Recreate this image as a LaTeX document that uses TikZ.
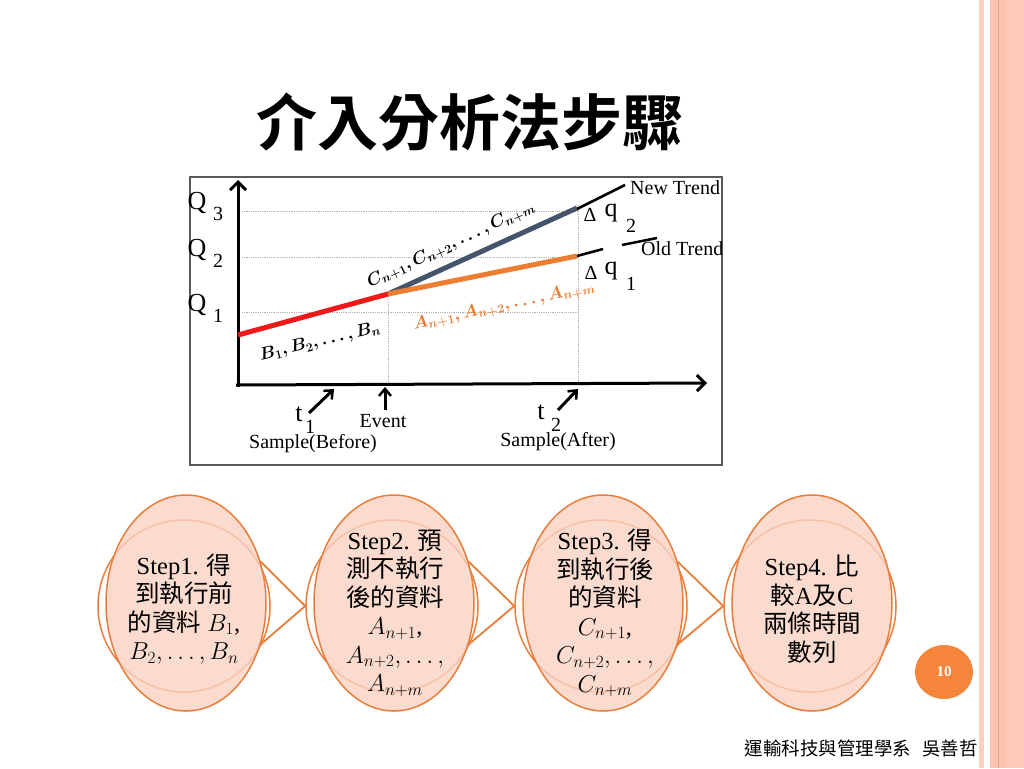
\RequirePackage{fix-cm}
\documentclass[tikz,border=0pt]{standalone}
\usepackage{fontspec}
\setmainfont{Liberation Serif}
\newfontfamily\cjk{Noto Sans CJK TC}[BoldFont={Noto Sans CJK TC Bold}]
\usepackage{tikz}
\usetikzlibrary{arrows.meta,shapes.geometric,backgrounds}
\definecolor{ptorange}{HTML}{E97E3C}
\definecolor{stepfill}{HTML}{F9D2C2}
\definecolor{slate}{HTML}{44546A}
\definecolor{trendorange}{HTML}{ED7D31}
\definecolor{trendred}{HTML}{F01818}
\definecolor{pnum}{HTML}{F4853A}
\definecolor{stripe}{HTML}{FCC4AE}
\definecolor{stripelight}{HTML}{FBD0C2}
\definecolor{stripeline}{HTML}{E9A48C}
\definecolor{stripetwo}{HTML}{FDCBB8}

\begin{document}
\begin{tikzpicture}[x=1pt,y=-1pt,
	stepbox/.style={ellipse,draw=ptorange,line width=1.5pt,fill=stepfill,fill opacity=0.8,minimum width=160pt,minimum height=216pt,inner sep=0pt},
	stepring/.style={circle,draw=ptorange,line width=1.5pt,fill=white,minimum size=172pt,inner sep=0pt},
	steptext/.style={align=center,inner sep=0pt,font=\fontsize{24.5}{28.5}\selectfont},
	flowline/.style={draw=ptorange,line width=1.8pt},
	axisline/.style={line width=3pt,-{Straight Barb[length=8pt,width=16pt,line width=3pt]}},
	pointer/.style={line width=3pt,-{Straight Barb[length=7pt,width=12pt,line width=2.5pt]}},
	trend/.style={line width=5pt},
	oldnew/.style={line width=2.5pt},
	gridline/.style={densely dotted,black!30,line width=0.8pt},
	scan/.style={inner sep=0pt,font=\fontsize{20}{20}\selectfont},
	scanbig/.style={inner sep=0pt,font=\fontsize{26}{26}\selectfont},
	mathlab/.style={inner sep=0pt,font=\fontsize{17.5}{17.5}\selectfont\boldmath}]
			%%%%% START %%%%%
			
			\useasboundingbox (0,0) rectangle (1024,768);
			
			% side stripes
			\fill[stripelight] (979,0) rectangle (984,768);
			\fill[stripe] (990,0) rectangle (1024,768);
			\fill[stripetwo] (1007,0) rectangle (1024,768);
			\draw[stripeline,line width=1pt] (998,0) -- (998,768);
			
			\node[font=\cjk\bfseries\fontsize{61}{61}\selectfont] (title) at (470,122) {介入分析法步驟};
			
			% the scanned graph
			\draw[black!65,line width=1.2pt] (190,177) rectangle (722,465);
			\foreach \y in {211,257,312}
				\draw[gridline] (242,\y) -- (578,\y);
			\draw[gridline] (578,205) -- (578,383);
			\draw[gridline] (388,300) -- (388,383);
			
			\draw[axisline] (238,387) -- (238,180);
			\draw[axisline] (236,385) -- (707,383);
			
			\foreach \n/\y in {3/203,2/250,1/305} {
				\node[scanbig] (q\n) at (197,\y) {Q};
				\node[scan] (qs\n) at (218,\y+11) {\n};
			}
			
			\draw[trend,trendred] (238,335) -- (388,294);
			\draw[trend,slate] (388,294) -- (577,208);
			\draw[trend,trendorange] (388,294) -- (577,256);
			
			\draw[oldnew] (577,209) -- (625,185);
			\draw[oldnew] (577,256) -- (603,249);
			\draw[oldnew] (622,245) -- (657,238);
			
			\node[scan,anchor=west] (newtrend) at (630,188) {New Trend};
			\node[scan,anchor=west] (oldtrend) at (641,249) {Old Trend};
			
			\node[scan] (d2) at (590,215) {Δ};
			\node[scanbig] (q2) at (611,213) {q};
			\node[scan] (d2s) at (631,226) {2};
			\node[scan] (d1) at (591,273) {Δ};
			\node[scanbig] (q1) at (611,271) {q};
			\node[scan] (d1s) at (631,284) {1};
			
			\node[mathlab,rotate=13] (blab) at (320,342) {$B_1, B_2, \dots, B_n$};
			\node[mathlab,rotate=25] (clab) at (451,245) {$C_{n+1}, C_{n+2}, \dots, C_{n+m}$};
			\node[mathlab,rotate=12,text=trendorange] (alab) at (504,306) {$A_{n+1}, A_{n+2}, \dots, A_{n+m}$};
			
			\node[scanbig] (t1) at (299,414) {t};
			\node[scan] (t1s) at (310,427) {1};
			\node[scan] (event) at (383,421) {Event};
			\node[scanbig] (t2) at (541,412) {t};
			\node[scan] (t2s) at (556,425) {2};
			\node[scan] (before) at (313,444) {Sample(Before)};
			\node[scan] (after) at (558,442) {Sample(After)};
			\draw[pointer] (309,413) -- (334,389);
			\draw[pointer] (385,410) -- (385,387);
			\draw[pointer] (558,410) -- (578,389);
			
			% steps
			\foreach \i/\x in {1/186,2/394,3/603,4/812} {
				\node[stepring] (c\i) at (\x-2,606) {};
				\node[stepbox] (s\i) at (\x,603) {};
			}
			
			\begin{scope}[on background layer]
				\fill[white] (0,0) rectangle (1024,768);
				\draw[flowline] (s1.29) -- (c2.west) -- (s1.-29);
				\draw[flowline] (s2.29) -- (c3.west) -- (s2.-29);
				\draw[flowline] (s3.29) -- (c4.west) -- (s3.-29);
			\end{scope}
			
			\node[steptext] (st1) at (184,609) {Step1. {\cjk 得}\\ {\cjk 到執行前}\\ {\cjk 的資料} $B_1$,\\ $B_2, \dots, B_n$};
			\node[steptext] (st2) at (395,613) {Step2. {\cjk 預}\\ {\cjk 測不執行}\\ {\cjk 後的資料}\\ $A_{n+1}$,\\ $A_{n+2}, \dots,$\\ $A_{n+m}$};
			\node[steptext] (st3) at (605,613) {Step3. {\cjk 得}\\ {\cjk 到執行後}\\ {\cjk 的資料}\\ $C_{n+1}$,\\ $C_{n+2}, \dots,$\\ $C_{n+m}$};
			\node[steptext] (st4) at (812,609) {Step4. {\cjk 比}\\ {\cjk 較}A{\cjk 及}C\\ {\cjk 兩條時間}\\ {\cjk 數列}};
			
			\node[ellipse,fill=pnum,minimum width=58pt,minimum height=54pt,inner sep=0pt,text=white,font=\bfseries\fontsize{15}{15}\selectfont] (page) at (944,672) {10};
			
			\node[anchor=east,inner sep=0pt,font=\cjk\fontsize{18.5}{18.5}\selectfont] (footer) at (978,748) {運輸科技與管理學系\hspace{0.6em}吳善哲};
			
			%%%%% END %%%%%
\end{tikzpicture}
\end{document}
